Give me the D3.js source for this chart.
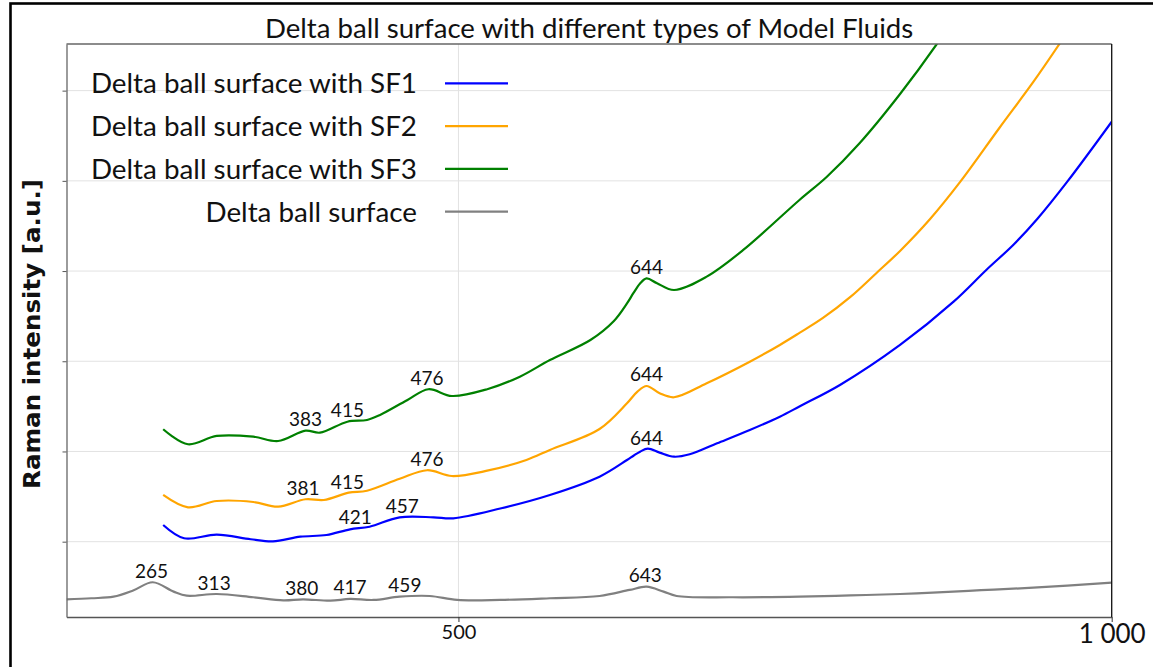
<!DOCTYPE html>
<html>
<head>
<meta charset="utf-8">
<script src="https://cdn.jsdelivr.net/npm/d3@7"></script>
<style>
body { margin: 0; background: #fff; }
text { font-family: Lato, "Open Sans", sans-serif; fill: #111; }
</style>
</head>
<body>
<div id="chart"></div>
<script>
const width = 1153;
const height = 667;
const margin = { top: 44, right: 41.3, bottom: 50, left: 66.5 };

// Raman shift [cm-1] and intensity [a.u.]
const wnBase = [200, 219, 236, 251, 266, 282, 292, 315, 343, 366, 381, 402, 417, 435, 455, 478, 499, 532, 570, 608, 631, 644, 657, 667, 710, 761, 800, 838, 863, 900, 940, 1000];
const intBase = [361, 373, 390, 459, 550, 446, 401, 420, 384, 350, 361, 346, 365, 354, 390, 398, 354, 354, 373, 398, 465, 501, 446, 398, 384, 390, 404, 420, 435, 462, 490, 545];

const wnSF1 = [274, 290, 315, 341, 358, 379, 399, 417, 432, 455, 481, 496, 532, 570, 608, 629, 634, 639, 645, 654, 665, 677, 698, 723, 746, 761, 792, 838, 879, 904, 925, 943, 966, 1000];
const intSF1 = [1185, 1038, 1078, 1027, 1004, 1055, 1074, 1137, 1166, 1270, 1270, 1259, 1368, 1518, 1721, 1906, 1953, 1998, 2031, 1987, 1942, 1969, 2091, 2238, 2386, 2499, 2737, 3181, 3661, 4012, 4295, 4577, 4991, 5656];

const wnSF2 = [274, 293, 315, 343, 362, 383, 397, 416, 430, 455, 476, 495, 522, 552, 570, 608, 629, 637, 644, 654, 665, 690, 723, 746, 761, 779, 800, 820, 838, 861, 884, 914, 940, 960, 1000];
const intSF2 = [1518, 1381, 1451, 1440, 1388, 1470, 1462, 1543, 1565, 1697, 1792, 1728, 1787, 1906, 2017, 2249, 2534, 2663, 2726, 2645, 2601, 2756, 2995, 3181, 3314, 3480, 3713, 3979, 4223, 4577, 4988, 5586, 6096, 6517, 7393];

const wnSF3 = [274, 293, 315, 343, 362, 383, 394, 415, 430, 440, 461, 477, 495, 522, 547, 570, 601, 619, 629, 634, 639, 644, 652, 665, 690, 718, 761, 782, 807, 838, 866, 890];
const intSF3 = [2246, 2080, 2172, 2164, 2116, 2231, 2208, 2330, 2349, 2405, 2571, 2690, 2615, 2690, 2829, 3014, 3236, 3447, 3641, 3757, 3862, 3918, 3865, 3790, 3938, 4234, 4788, 5046, 5417, 5963, 6514, 7040];

// peak annotations
const peaksBase = [265, 313, 380, 417, 459, 643];
const peaksSF1 = [421, 457, 644];
const peaksSF2 = [381, 415, 476, 644];
const peaksSF3 = [383, 415, 476, 644];

const seriesNames = ["Delta ball surface with SF1", "Delta ball surface with SF2", "Delta ball surface with SF3", "Delta ball surface"];
const seriesColors = ["#0000ff", "#ffa500", "#008000", "#808080"];

const xTicks = [500, 1000];
const yTicks = [1000, 2000, 3000, 4000, 5000, 6000];

const series = [
    { wn: wnSF1, val: intSF1, peaks: peaksSF1 },
    { wn: wnSF2, val: intSF2, peaks: peaksSF2 },
    { wn: wnSF3, val: intSF3, peaks: peaksSF3 },
    { wn: wnBase, val: intBase, peaks: peaksBase }
].map((s, i) => ({ ...s, name: seriesNames[i], color: seriesColors[i] }));

const svg = d3.select("#chart").append("svg")
    .attr("width", width)
    .attr("height", height);

// outer frame (only left and top edges are in view)
svg.append("rect")
    .attr("x", 10.5).attr("y", 3.5)
    .attr("width", width + 20).attr("height", height + 20)
    .attr("fill", "none").attr("stroke", "#000").attr("stroke-width", 2.6);

const x = d3.scaleLinear().domain([200, 1000]).range([margin.left, width - margin.right]);
const y = d3.scaleLinear().domain([165, 6517]).range([height - margin.bottom, margin.top]);

svg.append("defs").append("clipPath").attr("id", "plot-clip")
    .append("rect")
    .attr("x", margin.left).attr("y", margin.top)
    .attr("width", x.range()[1] - margin.left)
    .attr("height", y.range()[0] - margin.top);

// grid
const grid = svg.append("g");
grid.selectAll(".hgrid").data(yTicks).enter().append("line")
    .attr("x1", margin.left).attr("x2", x.range()[1])
    .attr("y1", d => y(d)).attr("y2", d => y(d))
    .attr("stroke", "#e2e2e2").attr("stroke-width", 1);
grid.selectAll(".vgrid").data(xTicks).enter().append("line")
    .attr("x1", d => x(d)).attr("x2", d => x(d))
    .attr("y1", margin.top).attr("y2", y.range()[0])
    .attr("stroke", "#e2e2e2").attr("stroke-width", 1);

// curves
const line = d3.line()
    .x(d => x(d[0]))
    .y(d => y(d[1]))
    .curve(d3.curveCatmullRom.alpha(0.5));

const plot = svg.append("g").attr("clip-path", "url(#plot-clip)");
series.forEach(s => {
    plot.append("path")
        .datum(d3.zip(s.wn, s.val))
        .attr("d", line)
        .attr("fill", "none")
        .attr("stroke", s.color)
        .attr("stroke-width", 2.2)
        .attr("stroke-linejoin", "round");
});

// peak labels
const interp = (s, w) => {
    const i = d3.bisectLeft(s.wn, w);
    if (i <= 0) return s.val[0];
    const t = (w - s.wn[i - 1]) / (s.wn[i] - s.wn[i - 1]);
    return s.val[i - 1] + t * (s.val[i] - s.val[i - 1]);
};
series.forEach(s => {
    svg.append("g").selectAll("text").data(s.peaks).enter().append("text")
        .attr("x", d => x(d))
        .attr("y", d => y(interp(s, d)) - 4.5)
        .attr("text-anchor", "middle")
        .style("font-size", "19px")
        .text(d => d);
});

// axes
const xAxis = svg.append("g")
    .attr("transform", `translate(0,${y.range()[0]})`)
    .call(d3.axisBottom(x).tickValues(xTicks).tickSize(5).tickSizeOuter(0)
        .tickFormat(d => d >= 1000 ? d3.format(",")(d).replace(",", " ") : d));
xAxis.select(".domain").attr("stroke", "#555").attr("stroke-width", 1.3);
xAxis.selectAll(".tick line").attr("stroke", "#333");
xAxis.selectAll(".tick text")
    .attr("y", 8)
    .style("font-family", "Lato, sans-serif")
    .style("font-size", d => d >= 1000 ? "26px" : "20px")
    .attr("fill", "#111");

const yAxis = svg.append("g")
    .attr("transform", `translate(${margin.left},0)`)
    .call(d3.axisLeft(y).tickValues(yTicks).tickSize(4).tickSizeOuter(0).tickFormat(""));
yAxis.select(".domain").attr("stroke", "#666").attr("stroke-width", 1.3);
yAxis.selectAll(".tick line").attr("stroke", "#555");

// top and right spines
svg.append("line")
    .attr("x1", margin.left).attr("x2", x.range()[1])
    .attr("y1", margin.top).attr("y2", margin.top)
    .attr("stroke", "#666").attr("stroke-width", 1.3);
svg.append("line")
    .attr("x1", x.range()[1]).attr("x2", x.range()[1])
    .attr("y1", margin.top).attr("y2", y.range()[0])
    .attr("stroke", "#111").attr("stroke-width", 1.3);

// title
svg.append("text")
    .attr("x", (margin.left + x.range()[1]) / 2)
    .attr("y", 37.5)
    .attr("text-anchor", "middle")
    .style("font-size", "27.6px")
    .text("Delta ball surface with different types of Model Fluids");

// y label
svg.append("text")
    .attr("transform", "translate(40,334) rotate(-90)")
    .attr("text-anchor", "middle")
    .style("font-family", "'DejaVu Sans', sans-serif")
    .style("font-weight", "bold")
    .style("font-size", "23px")
    .attr("textLength", 310)
    .attr("lengthAdjust", "spacingAndGlyphs")
    .text("Raman intensity [a.u.]");

// legend
const legend = svg.append("g").attr("transform", "translate(417,83.3)");
const rows = legend.selectAll("g").data(series).enter().append("g")
    .attr("transform", (d, i) => `translate(0,${i * 42.8})`);
rows.append("text")
    .attr("x", 0)
    .attr("dy", "0.36em")
    .attr("text-anchor", "end")
    .style("font-size", "27.8px")
    .text(d => d.name);
rows.append("line")
    .attr("x1", 28).attr("x2", 91)
    .attr("stroke", d => d.color)
    .attr("stroke-width", 2.2);
</script>
</body>
</html>
